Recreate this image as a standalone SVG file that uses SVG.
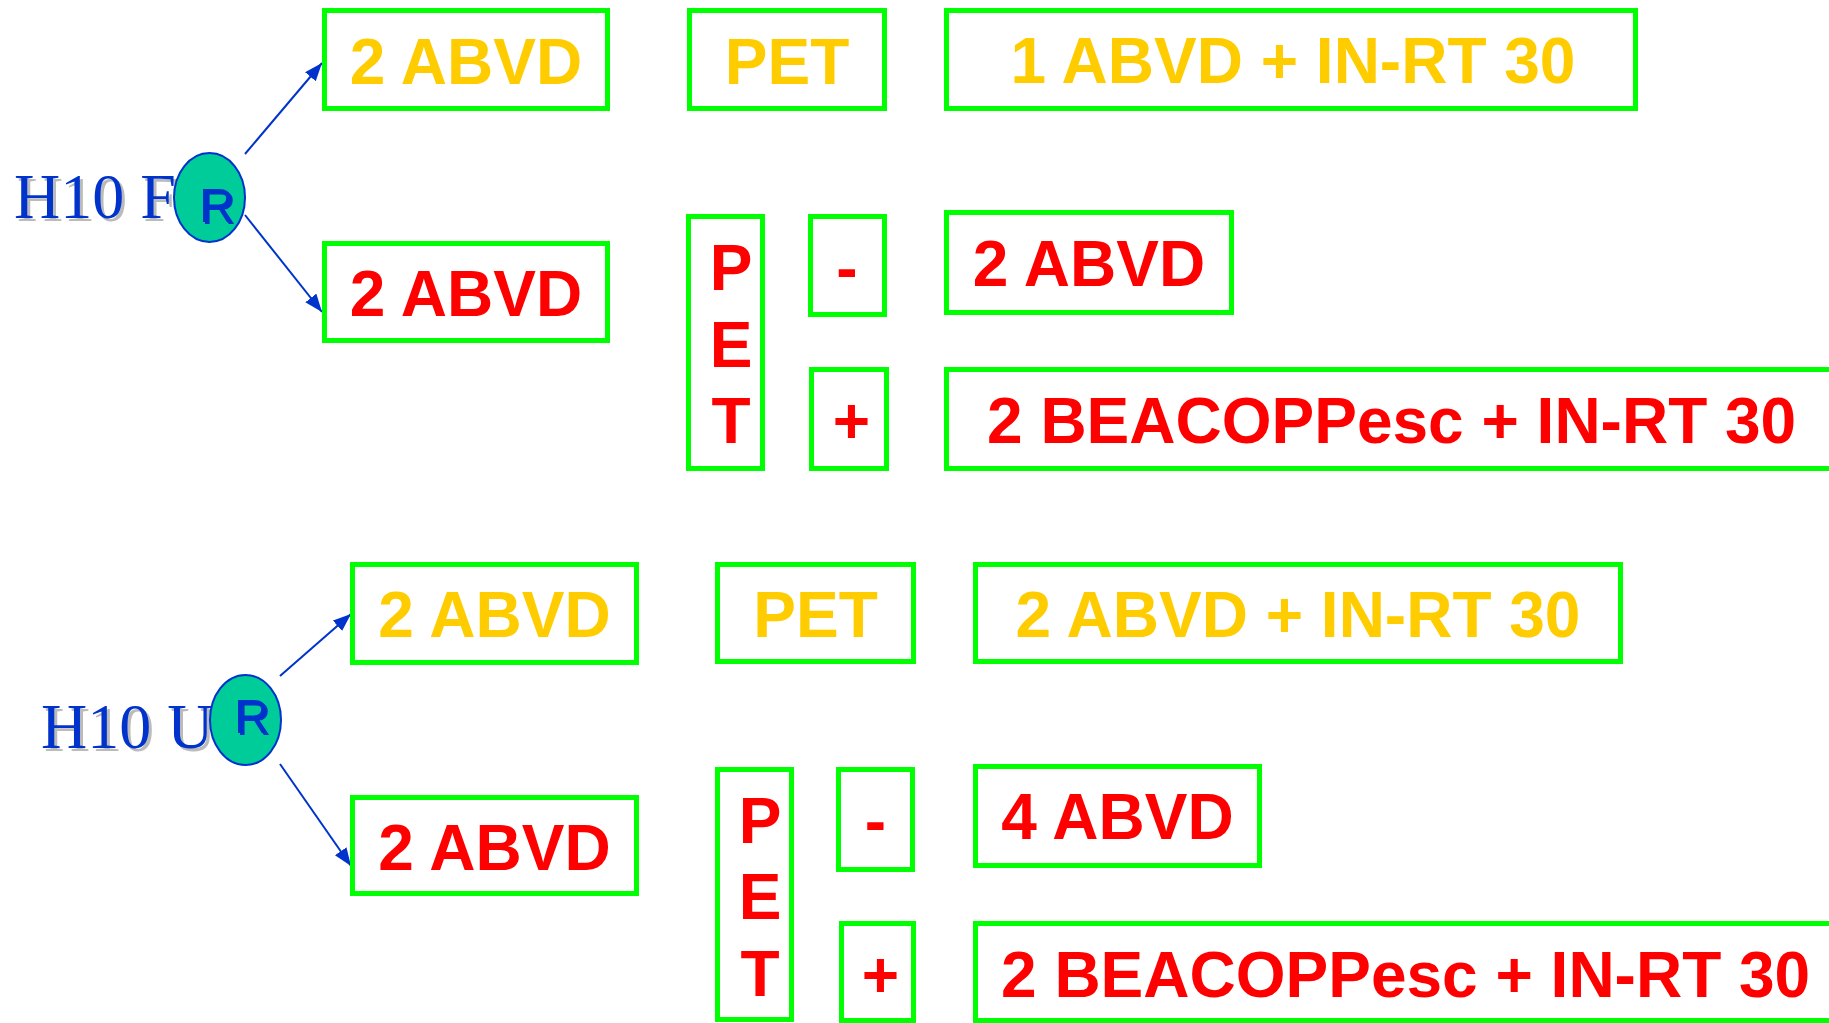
<svg xmlns="http://www.w3.org/2000/svg" width="1829" height="1023" viewBox="0 0 1829 1023">
<style>
.box{fill:#FFFFFF;stroke:#00FF00;stroke-width:5}
.t{font-family:"Liberation Sans",Arial,sans-serif;font-weight:bold;font-size:64px}
.gold{fill:#FFCC00}
.red{fill:#FF0000}
.lbl{font-family:"Liberation Serif","Times New Roman",serif;font-size:64px;fill:#0033CC}
.sh{fill:#BBBBBB}
.rnd{fill:#00CC99;stroke:#0033CC;stroke-width:2}
.r{font-family:"Liberation Sans",Arial,sans-serif;font-size:49px;fill:#0033CC}
.c{stroke:#0033CC;stroke-width:2;fill:none}
</style>
<defs>
<marker id="ah" markerUnits="userSpaceOnUse" markerWidth="20" markerHeight="16" refX="18" refY="7" orient="auto">
<path d="M0,0 L18,7 L0,14 z" fill="#0033CC"/>
</marker>
</defs>
<rect width="1829" height="1023" fill="#FFFFFF"/>

<g id="label-h10f">
<text class="lbl sh" x="17" y="221">H10 F</text>
<text class="lbl" x="14" y="218">H10 F</text>
</g>
<g id="label-h10u">
<text class="lbl sh" x="44" y="751">H10 U</text>
<text class="lbl" x="41" y="748">H10 U</text>
</g>

<g id="connectors">
<line class="c" x1="245" y1="154" x2="322" y2="63" marker-end="url(#ah)"/>
<line class="c" x1="245" y1="215" x2="322" y2="312" marker-end="url(#ah)"/>
<line class="c" x1="280" y1="676" x2="351" y2="614" marker-end="url(#ah)"/>
<line class="c" x1="280" y1="764" x2="351" y2="866" marker-end="url(#ah)"/>
</g>

<g id="r-top">
<ellipse class="rnd" cx="209.5" cy="197.5" rx="35.5" ry="44.5"/>
<text class="r sh" x="201" y="224">R</text>
<text class="r" x="199" y="222">R</text>
</g>
<g id="r-bottom">
<ellipse class="rnd" cx="245.5" cy="720" rx="35.5" ry="45"/>
<text class="r sh" x="236" y="735">R</text>
<text class="r" x="234" y="733">R</text>
</g>

<g id="f-abvd-gold">
<rect class="box" x="324.5" y="10.5" width="283" height="98"/>
<text class="t gold" x="466" y="84" text-anchor="middle">2 ABVD</text>
</g>
<g id="f-pet-gold">
<rect class="box" x="689.5" y="10.5" width="195" height="98"/>
<text class="t gold" x="787" y="84" text-anchor="middle">PET</text>
</g>
<g id="f-abvd-rt">
<rect class="box" x="946.5" y="10.5" width="689" height="98"/>
<text class="t gold" x="1293" y="83" text-anchor="middle">1 ABVD + IN-RT 30</text>
</g>
<g id="f-abvd-red">
<rect class="box" x="324.5" y="243.5" width="283" height="97"/>
<text class="t red" x="466" y="316" text-anchor="middle">2 ABVD</text>
</g>
<g id="f-pet-red">
<rect class="box" x="688.5" y="216.5" width="74" height="252"/>
<text class="t red" x="731" y="290" text-anchor="middle">P</text>
<text class="t red" x="731" y="367" text-anchor="middle">E</text>
<text class="t red" x="731" y="443" text-anchor="middle">T</text>
</g>
<g id="f-neg">
<rect class="box" x="810.5" y="216.5" width="74" height="98"/>
<text class="t red" x="847" y="290" text-anchor="middle">-</text>
</g>
<g id="f-neg-abvd">
<rect class="box" x="946.5" y="212.5" width="285" height="100"/>
<text class="t red" x="1089" y="286" text-anchor="middle">2 ABVD</text>
</g>
<g id="f-pos">
<rect class="box" x="811.5" y="369.5" width="75" height="99"/>
<text class="t red" x="851.5" y="443" text-anchor="middle">+</text>
</g>
<g id="f-pos-beacopp">
<rect class="box" x="946.5" y="369.5" width="900" height="99"/>
<text class="t red" x="987" y="443">2 BEACOPPesc + IN-RT 30</text>
</g>

<g id="u-abvd-gold">
<rect class="box" x="352.5" y="564.5" width="284" height="98"/>
<text class="t gold" x="494.5" y="637" text-anchor="middle">2 ABVD</text>
</g>
<g id="u-pet-gold">
<rect class="box" x="717.5" y="564.5" width="196" height="97"/>
<text class="t gold" x="815.5" y="637" text-anchor="middle">PET</text>
</g>
<g id="u-abvd-rt">
<rect class="box" x="975.5" y="564.5" width="645" height="97"/>
<text class="t gold" x="1298" y="637" text-anchor="middle">2 ABVD + IN-RT 30</text>
</g>
<g id="u-abvd-red">
<rect class="box" x="352.5" y="797.5" width="284" height="96"/>
<text class="t red" x="494.5" y="870" text-anchor="middle">2 ABVD</text>
</g>
<g id="u-pet-red">
<rect class="box" x="717.5" y="769.5" width="74" height="250"/>
<text class="t red" x="760" y="843" text-anchor="middle">P</text>
<text class="t red" x="760" y="919" text-anchor="middle">E</text>
<text class="t red" x="760" y="996" text-anchor="middle">T</text>
</g>
<g id="u-neg">
<rect class="box" x="838.5" y="769.5" width="74" height="100"/>
<text class="t red" x="875.5" y="843" text-anchor="middle">-</text>
</g>
<g id="u-neg-abvd">
<rect class="box" x="975.5" y="766.5" width="284" height="99"/>
<text class="t red" x="1117.5" y="839" text-anchor="middle">4 ABVD</text>
</g>
<g id="u-pos">
<rect class="box" x="841.5" y="923.5" width="72" height="97"/>
<text class="t red" x="880.5" y="997" text-anchor="middle">+</text>
</g>
<g id="u-pos-beacopp">
<rect class="box" x="975.5" y="923.5" width="900" height="97"/>
<text class="t red" x="1001" y="997">2 BEACOPPesc + IN-RT 30</text>
</g>
</svg>
